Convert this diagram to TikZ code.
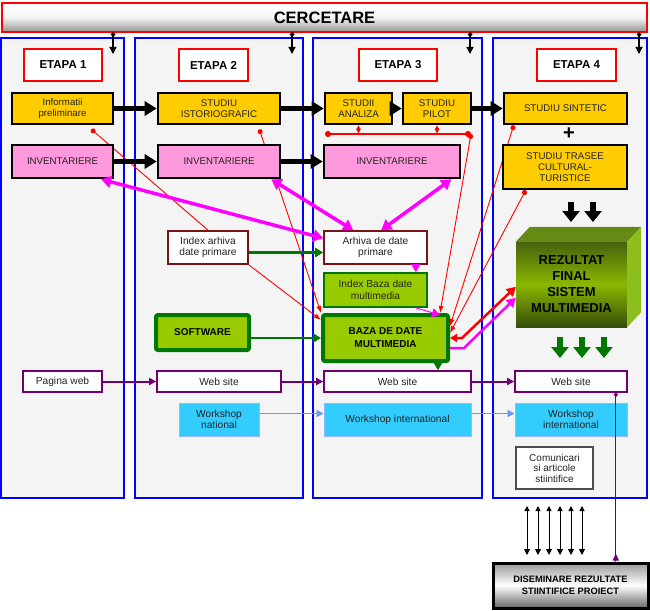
\documentclass[tikz,border=0pt]{standalone}
\usepackage{fontspec}
\setmainfont{Liberation Sans}
\usetikzlibrary{arrows.meta}
\definecolor{panelgray}{RGB}{244,244,244}
\definecolor{boxyellow}{RGB}{255,204,0}
\definecolor{boxpink}{RGB}{255,153,221}
\definecolor{limegreen}{RGB}{153,204,0}
\definecolor{darkgreen}{RGB}{0,120,0}
\definecolor{maroon}{RGB}{120,20,20}
\definecolor{webpurple}{RGB}{112,0,112}
\definecolor{wscyan}{RGB}{51,204,255}
\definecolor{wsblue}{RGB}{102,153,255}
\definecolor{textgray}{RGB}{35,35,35}
\definecolor{reztop}{RGB}{100,140,20}
\definecolor{rezside}{RGB}{140,190,30}
\definecolor{brightmag}{RGB}{255,0,255}
\pgfdeclarelayer{panels}
\pgfdeclarelayer{links}
\pgfsetlayers{panels,links,main}
\begin{document}
\begin{tikzpicture}[x=1pt,y=-1pt,
panel/.style={draw=blue, line width=2.2pt, fill=panelgray, inner sep=0pt},
etapa/.style={draw=red, line width=1.8pt, fill=white, inner sep=0pt, minimum height=32pt, font=\fontsize{11.5}{12}\selectfont\bfseries},
ybox/.style={draw=black, line width=2.6pt, fill=boxyellow, inner sep=0pt, align=center, text=textgray, font=\fontsize{9.7}{11}\selectfont},
pbox/.style={ybox, fill=boxpink},
wbox/.style={draw=maroon, line width=1.6pt, fill=white, inner sep=0pt, align=center, text=textgray, font=\fontsize{10.2}{11.5}\selectfont},
gbox/.style={wbox, draw=darkgreen, fill=limegreen},
softbox/.style={draw=darkgreen, line width=4pt, fill=limegreen, rounded corners=2pt, inner sep=0pt, align=center, font=\fontsize{10}{13}\selectfont\bfseries},
webbox/.style={wbox, draw=webpurple},
wsbox/.style={wbox, draw=wsblue!70, fill=wscyan, line width=1pt},
bigarrow/.style={line width=4.5pt, -{Triangle[width=14pt,length=12pt]}},
blockarrow/.style={line width=6pt, -{Triangle[width=17pt,length=11pt]}},
redlink/.style={red, line width=0.9pt, {Circle[length=5pt]}-{Latex[length=7pt,width=5pt]}},
magarrow/.style={brightmag, line width=3.5pt, {Triangle[width=12pt,length=10pt]}-{Triangle[width=12pt,length=10pt]}},
greenarrow/.style={darkgreen, line width=2.5pt, -{Triangle[width=9pt,length=8pt]}},
webarrow/.style={webpurple, line width=2pt, -{Triangle[width=7pt,length=7pt]}},
wsarrow/.style={wsblue, line width=1.8pt, -{Triangle[width=7pt,length=7pt]}},
]
\useasboundingbox (0,0) rectangle (650,610);
\begin{pgfonlayer}{panels}
\node[draw=red, line width=2.4pt, top color=white, bottom color=gray!85, middle color=white!92!gray, minimum width=645pt, minimum height=29pt, inner sep=0pt, font=\fontsize{16.5}{18}\selectfont\bfseries] (cerc) at (324.5,17.5){CERCETARE};
\node[panel, minimum width=123pt, minimum height=460pt] (pan1) at (62.5,268){};
\node[panel, minimum width=168pt, minimum height=460pt] (pan2) at (219,268){};
\node[panel, minimum width=169pt, minimum height=460pt] (pan3) at (397.5,268){};
\node[panel, minimum width=154pt, minimum height=460pt] (pan4) at (570,268){};
\end{pgfonlayer}
\foreach \x in {113,292,470,639}
  \draw[line width=1.2pt, {Diamond[length=5pt,width=5pt]}-{Triangle[length=7pt,width=7pt]}] (\x,32) -- (\x,54);
\node[etapa, minimum width=78pt] (et1) at (63,65){ETAPA 1};
\node[etapa, minimum width=69pt] (et2) at (213.5,65){ETAPA 2};
\node[etapa, minimum width=78pt] (et3) at (398,65){ETAPA 3};
\node[etapa, minimum width=79pt] (et4) at (576.5,65){ETAPA 4};
\node[ybox, minimum width=101pt, minimum height=31pt] (info) at (62.5,108.5){Informatii\\preliminare};
\node[ybox, minimum width=122pt, minimum height=31pt] (istor) at (219,108.5){STUDIU\\ISTORIOGRAFIC};
\node[ybox, minimum width=67pt, minimum height=31pt] (analiza) at (358.5,108.5){STUDII\\ANALIZA};
\node[ybox, minimum width=68pt, minimum height=31pt] (pilot) at (437,108.5){STUDIU\\PILOT};
\node[ybox, minimum width=123pt, minimum height=31pt] (sintetic) at (565.5,108.5){STUDIU SINTETIC};
\draw[bigarrow](info) -- (istor);
\draw[bigarrow](istor) -- (analiza);
\draw[bigarrow](analiza) -- (pilot);
\draw[bigarrow](pilot) -- (sintetic);
\coordinate (barL) at (325,134);
\coordinate (barR) at (471,134);
\draw[red, line width=1.5pt, {Circle[length=6pt]}-{Circle[length=6pt]}](barL) -- (barR);
\draw[red, line width=1.2pt, {Latex[length=4pt,width=5pt]}-{Latex[length=5pt,width=5pt]}](analiza.south) -- (analiza.south |- barL);
\draw[red, line width=1.2pt, {Latex[length=4pt,width=5pt]}-{Latex[length=5pt,width=5pt]}](pilot.south) -- (pilot.south |- barL);
\node[font=\fontsize{20}{20}\selectfont\bfseries] (plus) at (569,134){+};
\node[pbox, minimum width=101pt, minimum height=33pt] (inv1) at (62.5,161.5){INVENTARIERE};
\node[pbox, minimum width=122pt, minimum height=33pt] (inv2) at (219,161.5){INVENTARIERE};
\node[pbox, minimum width=136pt, minimum height=33pt] (inv3) at (392,161.5){INVENTARIERE};
\node[ybox, minimum width=124pt, minimum height=44pt] (trasee) at (565,167){STUDIU TRASEE\\CULTURAL-\\TURISTICE};
\draw[bigarrow](inv1) -- (inv2);
\draw[bigarrow](inv2) -- (inv3);
\node[wbox, minimum width=80pt, minimum height=33pt] (idxarh) at (208,247.5){Index arhiva\\date primare};
\node[wbox, minimum width=103pt, minimum height=33pt] (arh) at (375.5,247.5){Arhiva de date\\primare};
\node[gbox, minimum width=103pt, minimum height=34pt] (idxbaza) at (375.5,290){Index Baza date\\multimedia};
\node[softbox, minimum width=125pt, minimum height=46pt] (baza) at (385.5,338){BAZA DE DATE\\MULTIMEDIA};
\node[softbox, minimum width=93pt, minimum height=35pt] (soft) at (202.5,332.5){SOFTWARE};
\begin{pgfonlayer}{links}
\draw[red, line width=0.9pt, {Circle[length=5pt]}-]([shift={(-23,4)}]info.south east) -- (idxarh.north);
\draw[red, line width=0.9pt, -{Latex[length=7pt,width=5pt]}](idxarh.south east) -- ([shift={(0,7)}]baza.north west);
\draw[redlink]([shift={(-22,4)}]istor.south east) -- (baza.north west);
\draw[redlink](barR) -- ([shift={(-10,0)}]baza.north east);
\draw[redlink]([shift={(11,0)}]sintetic.south west) -- ([shift={(0,-12)}]baza.east);
\draw[redlink]([shift={(24,0)}]trasee.south west) -- ([shift={(0,-5)}]baza.east);
\end{pgfonlayer}
\draw[magarrow]([shift={(-13,0)}]inv1.south east) -- ([shift={(0,8)}]arh.north west);
\draw[magarrow]([shift={(-10,0)}]inv2.south east) -- ([shift={(30,0)}]arh.north west);
\draw[magarrow]([shift={(-10,0)}]inv3.south east) -- ([shift={(58,0)}]arh.north west);
\draw[greenarrow]([shift={(0,5)}]idxarh.east) -- ([shift={(0,5)}]arh.west);
\draw[greenarrow](soft.east |- baza) -- (baza.west);
\draw[brightmag, line width=1pt, -{Triangle[width=9pt,length=8pt]}]([shift={(-12,0)}]arh.south east) -- ([shift={(-12,0)}]idxbaza.north east);
\draw[brightmag, line width=1pt, -{Triangle[width=9pt,length=8pt]}]([shift={(-12,0)}]idxbaza.south east) -- ([shift={(-10,2)}]baza.north east);
\node[top color=reztop!70!black, bottom color=reztop!55!black, middle color=limegreen!90!black, minimum width=111pt, minimum height=85pt, inner sep=0pt, align=center, font=\fontsize{13}{16}\selectfont\bfseries] (rez) at (571.5,284.5){REZULTAT\\FINAL\\SISTEM\\MULTIMEDIA};
\fill[reztop](rez.north west) -- ++(14,-15) -- ([shift={(14,-15)}]rez.north east) -- (rez.north east) -- cycle;
\fill[rezside](rez.north east) -- ++(14,-15) -- ([shift={(14,-15)}]rez.south east) -- (rez.south east) -- cycle;
\draw[red, line width=2.5pt, {Triangle[width=8pt,length=7pt]}-{Triangle[width=10pt,length=9pt]}](baza.east) -- ++(12,0) -- ([shift={(0,45)}]rez.north west);
\draw[brightmag, line width=2.5pt, -{Triangle[width=10pt,length=9pt]}]([shift={(0,10)}]baza.east) -- ++(14,0) -- ([shift={(0,56)}]rez.north west);
\foreach \x in {571,593}
  \draw[blockarrow](\x,202) -- (\x,222);
\foreach \x in {560,582,604}
  \draw[blockarrow, darkgreen](\x,337) -- (\x,358);
\node[webbox, minimum width=79pt, minimum height=21pt] (pweb) at (62.5,381.5){Pagina web};
\node[webbox, minimum width=124pt, minimum height=21pt] (web2) at (219,381.5){Web site};
\node[webbox, minimum width=147pt, minimum height=21pt] (web3) at (397.5,381.5){Web site};
\node[webbox, minimum width=112pt, minimum height=21pt] (web4) at (571,381.5){Web site};
\draw[darkgreen, line width=1pt, -{Triangle[width=9pt,length=8pt]}]([shift={(-12,0)}]baza.south east) -- ([shift={(-12,0)}]baza.south east |- web3.north);
\draw[webarrow](pweb) -- (web2);
\draw[webarrow](web2) -- (web3);
\draw[webarrow](web3) -- (web4);
\node[wsbox, minimum width=80pt, minimum height=33pt] (wsnat) at (219,419.5){Workshop\\national};
\node[wsbox, minimum width=147pt, minimum height=33pt] (ws3) at (397.5,419.5){Workshop international};
\node[wsbox, minimum width=112pt, minimum height=33pt] (ws4) at (571,419.5){Workshop\\international};
\draw[wsarrow]([shift={(0,-6)}]wsnat.east) -- ([shift={(0,-6)}]ws3.west);
\draw[wsarrow]([shift={(0,-6)}]ws3.east) -- ([shift={(0,-6)}]ws4.west);
\node[draw=gray!60!black, line width=1.1pt, fill=white, minimum width=77pt, minimum height=42pt, inner sep=0pt, align=center, text=textgray, font=\fontsize{10}{10.5}\selectfont] (com) at (554.5,468){Comunicari\\si articole\\stiintifice};
\node[draw=black, line width=3pt, top color=gray!80, bottom color=gray!80!black, middle color=white, minimum width=155pt, minimum height=45pt, inner sep=0pt, align=center, font=\fontsize{9.3}{11.5}\selectfont\bfseries] (disem) at (570.5,585.5){DISEMINARE REZULTATE\\STIINTIFICE PROIECT};
\foreach \i in {0,...,5}
  \draw[line width=1pt, {Triangle[width=5pt,length=5pt]}-{Triangle[width=6pt,length=6pt]}](527+11*\i,506) -- (527+11*\i,555);
\draw[webpurple, line width=1.2pt, {Circle[length=4pt]}-{Triangle[width=6pt,length=7pt]}]([shift={(-12,0)}]web4.south east) -- ([shift={(-12,0)}]web4.south east |- disem.north) -- +(0,-8);
\end{tikzpicture}
\end{document}
